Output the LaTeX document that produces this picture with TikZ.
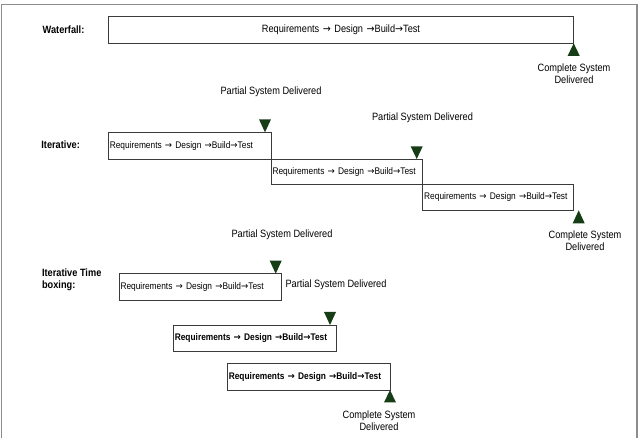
\documentclass[tikz,border=0pt]{standalone}
\usepackage{fontspec}
\setmainfont[FakeStretch=0.87]{Liberation Sans}
\newfontfamily\arrowfont[FakeStretch=0.9]{DejaVu Sans}
\newcommand{\nxt}{{\arrowfont →}}
\definecolor{sframe}{HTML}{8C8C8C}
\definecolor{sbox}{HTML}{3A3A3A}
\definecolor{fmark}{HTML}{173D17}

\begin{document}
\begin{tikzpicture}[x=1pt,y=-1pt,line width=0.8pt,
  stepbox/.style={draw=sbox,rectangle,outer sep=0pt,inner xsep=1.5pt,inner ysep=0pt,anchor=north west,align=left,font=\fontsize{9.6}{11}\selectfont},
  phaselabel/.style={anchor=west,inner sep=0pt,align=left,font=\fontsize{10.6}{12.3}\selectfont\bfseries},
  deliv/.style={inner sep=0pt,align=center,font=\fontsize{10.6}{12.3}\selectfont}]
\useasboundingbox (0,0) rectangle (641,438);
\draw[sframe,line width=1.3pt] (1.5,438) -- (1.5,4.5) -- (637,4.5) -- (637,438);
\node[phaselabel] (lwf) at (42.3,29.5) {Waterfall:};
\node[phaselabel] (lit) at (41,145) {Iterative:};
\node[phaselabel] (ltb) at (41.7,279.5) {Iterative Time\\boxing:};
\node[stepbox,align=center,minimum height=26.6pt,text width=462.4pt,font=\fontsize{10.6}{12}\selectfont] (wf) at (108.3,16.7) {Requirements \nxt{} Design \nxt{}Build\nxt{}Test};
\node[stepbox,minimum height=26.7pt,text width=159.7pt] (it1) at (108.3,132.3) {Requirements \nxt{} Design \nxt{}Build\nxt{}Test};
\node[stepbox,minimum height=25.3pt,text width=148.7pt] (it2) at (it1.south east) {Requirements \nxt{} Design \nxt{}Build\nxt{}Test};
\node[stepbox,minimum height=26pt,text width=148pt] (it3) at (it2.south east) {Requirements \nxt{} Design \nxt{}Build\nxt{}Test};
\node[stepbox,minimum height=26.3pt,text width=159.7pt] (tb1) at (119,273.7) {Requirements \nxt{} Design \nxt{}Build\nxt{}Test};
\node[stepbox,minimum height=26pt,text width=159.7pt,font=\fontsize{9.6}{11}\selectfont\bfseries] (tb2) at (173.3,325) {Requirements \nxt{} Design \nxt{}Build\nxt{}Test};
\node[stepbox,minimum height=26.7pt,text width=159.7pt,font=\fontsize{9.6}{11}\selectfont\bfseries] (tb3) at (227.3,363.3) {Requirements \nxt{} Design \nxt{}Build\nxt{}Test};
\node[deliv] (cwf) at (574,74) {Complete System\\Delivered};
\node[deliv] (pit1) at (271,92) {Partial System Delivered};
\node[deliv] (pit2) at (422.5,118) {Partial System Delivered};
\node[deliv] (pit3) at (282,234.3) {Partial System Delivered};
\node[deliv] (cit) at (585,240.7) {Complete System\\Delivered};
\node[deliv] (ptb1) at (336,285) {Partial System Delivered};
\node[deliv] (ctb) at (379,420.5) {Complete System\\Delivered};
\fill[fmark] (wf.south east) -- ++(-6,12.5) -- ++(12,0) -- cycle;
\fill[fmark] ([xshift=-6pt]it1.north east) -- ++(-6,-13) -- ++(12,0) -- cycle;
\fill[fmark] ([xshift=-6pt]it2.north east) -- ++(-6,-12.5) -- ++(12,0) -- cycle;
\fill[fmark] ([xshift=5pt]it3.south east) -- ++(-6,13) -- ++(12,0) -- cycle;
\fill[fmark] ([xshift=-6pt]tb1.north east) -- ++(-6,-13) -- ++(12,0) -- cycle;
\fill[fmark] ([xshift=-6pt]tb2.north east) -- ++(-6,-13) -- ++(12,0) -- cycle;
\fill[fmark] (tb3.south east) -- ++(-6,12.5) -- ++(12,0) -- cycle;
\end{tikzpicture}
\end{document}
